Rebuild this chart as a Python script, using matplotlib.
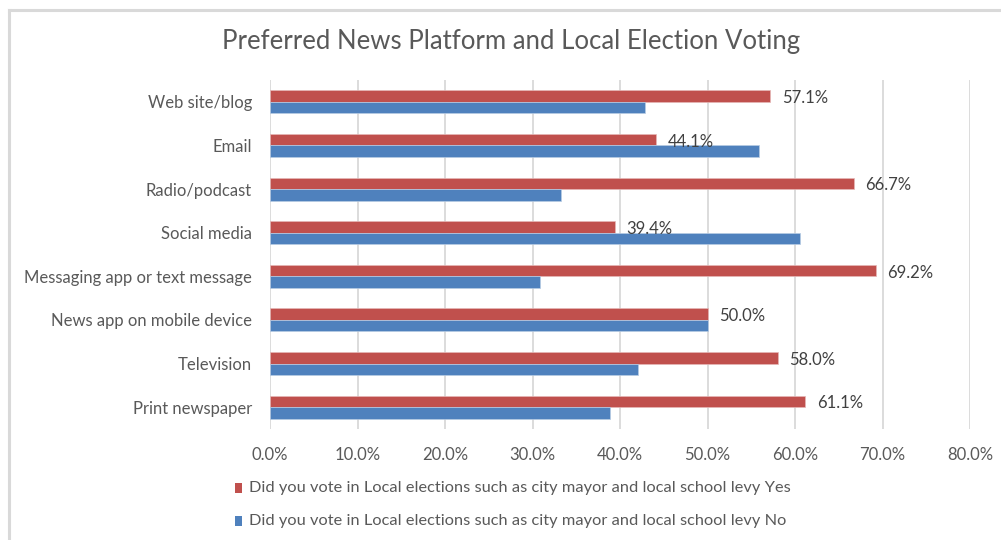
import matplotlib
matplotlib.use("Agg")
import matplotlib.pyplot as plt
from matplotlib.patches import Rectangle
from matplotlib.lines import Line2D
import numpy as np

plt.rcParams['font.family'] = ['Lato', 'DejaVu Sans']

categories = ["Web site/blog", "Email", "Radio/podcast", "Social media",
              "Messaging app or text message", "News app on mobile device",
              "Television", "Print newspaper"]
yes_pct = [57.1, 44.1, 66.7, 39.4, 69.2, 50.0, 58.0, 61.1]
no_pct = [42.9, 55.9, 33.3, 60.6, 30.8, 50.0, 42.0, 38.9]
xticks = [0, 10, 20, 30, 40, 50, 60, 70, 80]
series_names = ["Did you vote in Local elections such as city mayor and local school levy Yes",
                "Did you vote in Local elections such as city mayor and local school levy No"]
title = "Preferred News Platform and Local Election Voting"

RED = "#C0504D"
BLUE = "#4F81BD"
TXT = "#595959"
GRID = "#D9D9D9"

W, H = 1001, 540
fig = plt.figure(figsize=(W / 100, H / 100), dpi=100)
fig.patch.set_facecolor("white")

# outer chart frame (left and top edges)
fig.add_artist(Line2D([8.5 / W, 8.5 / W], [0, 1 - 9.5 / H], color=GRID, lw=2.2))
fig.add_artist(Line2D([8.5 / W, 1.0], [1 - 9.5 / H, 1 - 9.5 / H], color=GRID, lw=2.2))

ax = fig.add_axes([270 / W, 1 - 429 / H, 700 / W, (429 - 80) / H])

y = np.arange(len(categories))
h = 0.264
ax.barh(y - h / 2, yes_pct, height=h, color=RED, edgecolor="#E6B8B7", linewidth=0.5, zorder=3)
ax.barh(y + h / 2, no_pct, height=h, color=BLUE, edgecolor="#B8CCE4", linewidth=0.5, zorder=3)

for yi, v in zip(y, yes_pct):
    ax.annotate(f"{v:.1f}%", xy=(v, yi - h / 2), xytext=(12, -2), textcoords="offset pixels",
                ha="left", va="center", fontsize=12, color="#404040", zorder=4)

ax.set_xlim(0, 80)
ax.set_ylim(len(categories) - 0.5, -0.5)
ax.set_xticks(xticks)
ax.set_xticklabels([f"{t:.1f}%" for t in xticks], fontsize=12, color=TXT)
ax.set_yticks(y)
ax.set_yticklabels(categories, fontsize=12, color=TXT)
ax.tick_params(axis="both", length=0)
ax.tick_params(axis="x", pad=13)
ax.tick_params(axis="y", pad=13)
ax.grid(axis="x", color=GRID, linewidth=1.3, zorder=0)
for s in ax.spines.values():
    s.set_visible(False)
ax.set_axisbelow(True)

fig.text(511 / W, 1 - 42 / H, title, ha="center", va="center", fontsize=18.5, color=TXT)

# legend, drawn as swatches and labels below the axis
for (cy, col, name) in [(488, RED, series_names[0]), (521, BLUE, series_names[1])]:
    fig.add_artist(Rectangle((235 / W, 1 - (cy + 5) / H), 7 / W, 10 / H,
                             transform=fig.transFigure, facecolor=col, edgecolor="none"))
    fig.text(249 / W, 1 - cy / H, name, ha="left", va="center", fontsize=11.8, color=TXT)

fig.savefig("out.png", dpi=100)
